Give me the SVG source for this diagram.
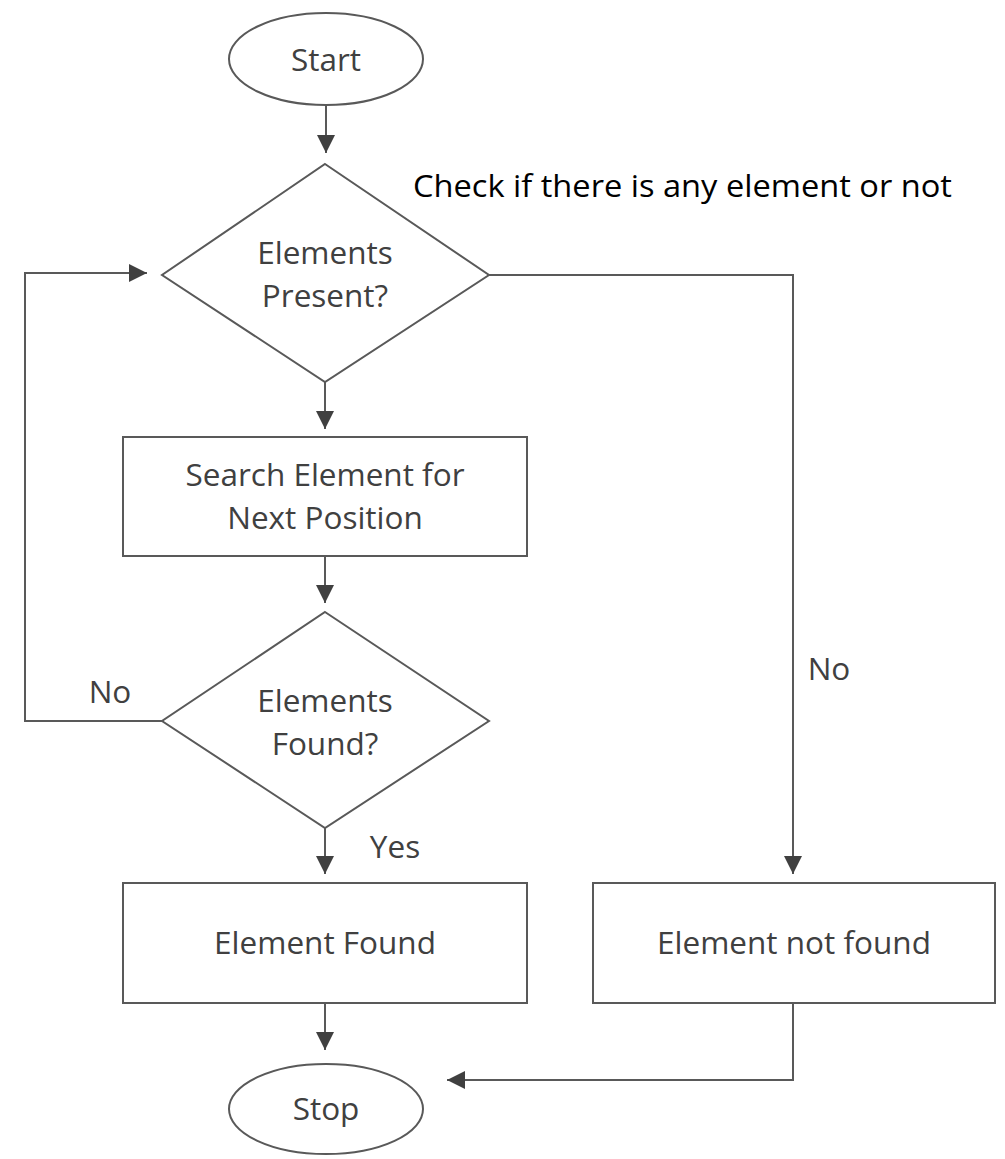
<svg xmlns="http://www.w3.org/2000/svg" width="1005" height="1159" viewBox="0 0 1005 1159">
<defs>
<style>
.shape{fill:#fff;stroke:#595959;stroke-width:2}
.conn{fill:none;stroke:#595959;stroke-width:2}
.t{font-family:"Open Sans","Liberation Sans",sans-serif;font-size:31.5px;fill:#404040;text-anchor:middle}
.note{font-family:"Open Sans","Liberation Sans",sans-serif;font-size:31px;fill:#000}
</style>
<marker id="ah" viewBox="0 0 10 10" refX="10" refY="5" markerWidth="18" markerHeight="18" markerUnits="userSpaceOnUse" orient="auto">
<path d="M0,0 L10,5 L0,10 z" fill="#404040"/>
</marker>
</defs>
<rect width="1005" height="1159" fill="#fff"/>
<g id="connectors">
<line class="conn" x1="326" y1="105" x2="326" y2="153" marker-end="url(#ah)"/>
<line class="conn" x1="325" y1="382" x2="325" y2="429" marker-end="url(#ah)"/>
<line class="conn" x1="325" y1="556" x2="325" y2="603" marker-end="url(#ah)"/>
<line class="conn" x1="325" y1="828" x2="325" y2="874" marker-end="url(#ah)"/>
<line class="conn" x1="325" y1="1003" x2="325" y2="1050" marker-end="url(#ah)"/>
<polyline class="conn" points="162,721 25,721 25,273 147,273" marker-end="url(#ah)"/>
<polyline class="conn" points="489,275 793,275 793,874" marker-end="url(#ah)"/>
<polyline class="conn" points="793,1003 793,1080 447,1080" marker-end="url(#ah)"/>
<text class="t" x="110" y="703">No</text>
<text class="t" x="829" y="680">No</text>
<text class="t" x="395" y="858">Yes</text>
</g>
<g id="start">
<ellipse class="shape" cx="326" cy="59" rx="97" ry="46"/>
<text class="t" x="326" y="71">Start</text>
</g>
<g id="note">
<text class="note" x="413" y="197" textLength="539" lengthAdjust="spacingAndGlyphs">Check if there is any element or not</text>
</g>
<g id="present">
<polygon class="shape" points="325,164 489,275 325,382 162,275"/>
<text class="t" x="325" y="264">Elements</text>
<text class="t" x="325" y="307">Present?</text>
</g>
<g id="search">
<rect class="shape" x="123" y="437" width="404" height="119"/>
<text class="t" x="325" y="486">Search Element for</text>
<text class="t" x="325" y="529">Next Position</text>
</g>
<g id="found-q">
<polygon class="shape" points="325,612 489,721 325,828 162,721"/>
<text class="t" x="325" y="712">Elements</text>
<text class="t" x="325" y="755">Found?</text>
</g>
<g id="found">
<rect class="shape" x="123" y="883" width="404" height="120"/>
<text class="t" x="325" y="954">Element Found</text>
</g>
<g id="notfound">
<rect class="shape" x="593" y="883" width="402" height="120"/>
<text class="t" x="794" y="954">Element not found</text>
</g>
<g id="stop">
<ellipse class="shape" cx="326" cy="1109" rx="97" ry="45"/>
<text class="t" x="326" y="1120">Stop</text>
</g>
</svg>
